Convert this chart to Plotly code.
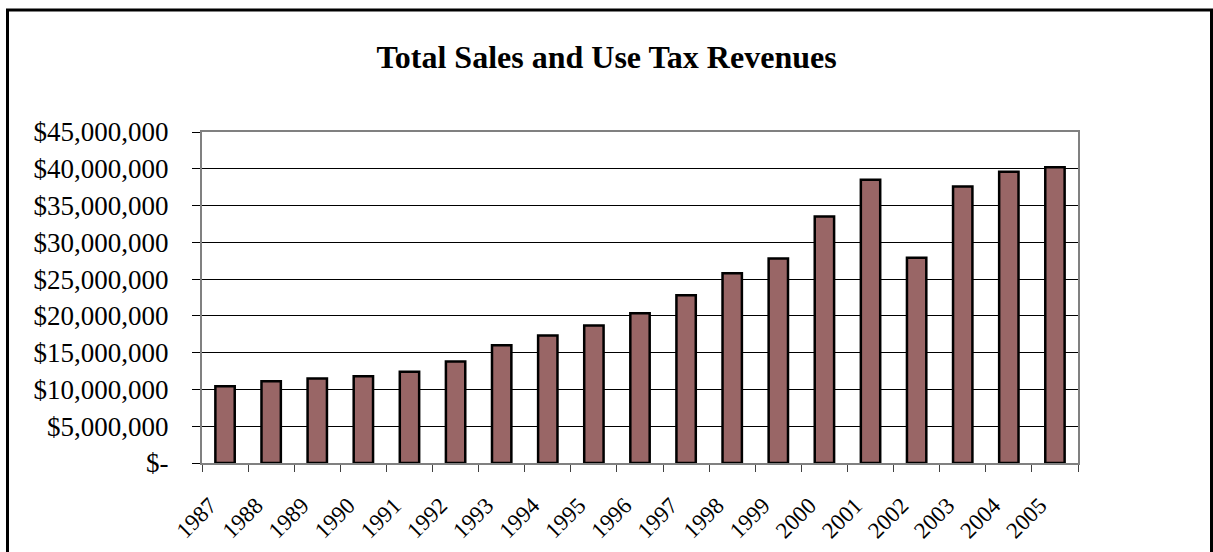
import plotly.graph_objects as go

years = ["1987", "1988", "1989", "1990", "1991", "1992", "1993", "1994", "1995", "1996",
         "1997", "1998", "1999", "2000", "2001", "2002", "2003", "2004", "2005"]
revenues = [10450000, 11100000, 11500000, 11800000, 12400000, 13800000, 16000000, 17350000,
            18700000, 20350000, 22800000, 25800000, 27800000, 33500000, 38500000, 27900000,
            37600000, 39600000, 40200000]
y_tick_vals = [0, 5000000, 10000000, 15000000, 20000000, 25000000, 30000000, 35000000,
               40000000, 45000000]
y_tick_text = ["$-", "$5,000,000", "$10,000,000", "$15,000,000", "$20,000,000",
               "$25,000,000", "$30,000,000", "$35,000,000", "$40,000,000", "$45,000,000"]
title_text = "Total Sales and Use Tax Revenues"

serif = "Liberation Serif, Times New Roman, serif"

fig = go.Figure()
fig.add_trace(go.Bar(
    x=years, y=revenues,
    marker=dict(color="#996666", line=dict(color="black", width=2.5)),
    width=0.42,
))

fig.update_layout(
    width=1213, height=552,
    margin=dict(l=202, r=135, t=132, b=89, autoexpand=False),
    paper_bgcolor="white", plot_bgcolor="white",
    showlegend=False,
    title=dict(text="<b>" + title_text + "</b>", x=0.5, xanchor="center",
               y=1 - 57 / 552, yref="container", yanchor="middle",
               font=dict(family=serif, size=32, color="black")),
    font=dict(family=serif, color="black"),
)

fig.update_yaxes(
    range=[0, 45000000], tickvals=y_tick_vals, ticktext=y_tick_text,
    tickfont=dict(family=serif, size=27, color="black"),
    showgrid=True, gridcolor="black", gridwidth=1,
    ticks="outside", ticklen=8, tickcolor="black", tickwidth=1,
    showline=True, linecolor="#808080", linewidth=2, mirror=True,
    zeroline=False, ticklabelstandoff=18,
)
fig.update_xaxes(
    type="category", tickangle=-45, tickson="boundaries",
    tickfont=dict(family=serif, size=23, color="black"),
    ticks="outside", ticklen=7, tickcolor="#404040", tickwidth=1,
    showline=True, linecolor="#808080", linewidth=2, mirror=True,
    showgrid=False, ticklabelstandoff=18, ticklabelshift=-15,
)

# outer chart frame
fig.add_shape(type="rect", xref="paper", yref="paper",
              x0=(7.5 - 202) / 876, x1=(1211.5 - 202) / 876,
              y0=-(562 - 463) / 331, y1=1 + (131.5 - 9.5) / 331,
              line=dict(color="black", width=3), fillcolor="rgba(0,0,0,0)", layer="above")

fig.write_html("out.html", config={"displayModeBar": False},
               post_script="document.body.style.margin='0px';")
